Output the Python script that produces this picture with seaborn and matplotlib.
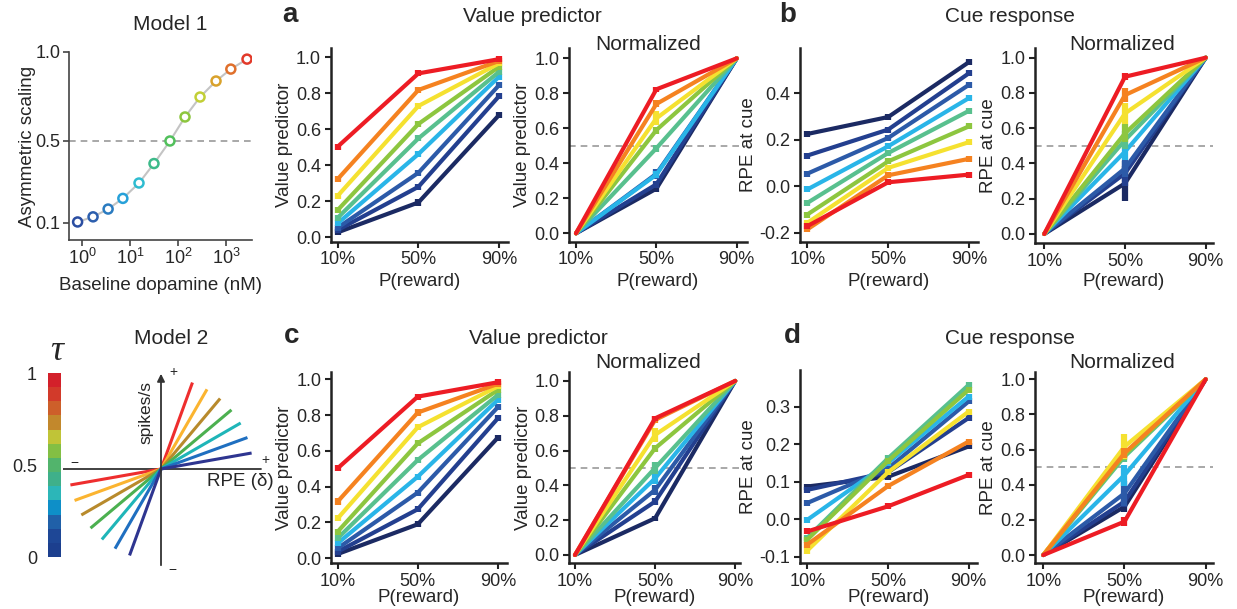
import numpy as np
import pandas as pd
import seaborn as sns
import matplotlib.pyplot as plt
from matplotlib.colors import ListedColormap
from matplotlib.ticker import NullLocator

sns.set_style('ticks')
plt.rcParams['font.family'] = ['Liberation Sans', 'DejaVu Sans']
plt.rcParams['mathtext.fontset'] = 'custom'
plt.rcParams['mathtext.rm'] = 'Liberation Sans'
plt.rcParams['mathtext.it'] = 'Liberation Sans:italic'

# ---------------- data ----------------
# Model 1: asymmetric scaling vs baseline dopamine
dopamine_nM = [0.81, 1.7, 3.5, 7.1, 15.4, 31.6, 68, 140, 288, 620, 1260, 2740]
asym_scaling = [0.105, 0.13, 0.168, 0.22, 0.295, 0.39, 0.5, 0.635, 0.747, 0.837, 0.904, 0.96]
model1_colors = ['#2b4ea2', '#2d5fae', '#2a7bc0', '#27a1d9', '#2fbcd0', '#3dba8a',
                 '#52c05c', '#8dc63f', '#c2cf36', '#d9a22c', '#e0702c', '#e23a2a']

# Model 2: tau colour bar (bottom -> top) and asymmetric response lines
tau_bar_colors = ['#1c3f8e', '#1e4796', '#2060a8', '#0e8fc8', '#2cb6b8', '#3fb08a',
                  '#52b46c', '#83bf44', '#c0c437', '#c2882c', '#cd5f2a', '#d23a2a', '#d3202a']
model2_colors = ['#ee2e2e', '#fbb430', '#b88a2c', '#4cb050', '#1fb5b8', '#1f6fc0', '#2e3590']
pos_angle_deg = [70, 60, 50, 40, 30, 20, 10]
neg_angle_deg = [10, 20, 30, 40, 50, 60, 70]

# Panels a-d: 9 channels, navy (low tau) -> red (high tau)
p_reward = ['10%', '50%', '90%']
line_colors = ['#1b2a63', '#233f8f', '#2c5aa8', '#29b5e8', '#58c08e',
               '#8dc63f', '#f5e130', '#f58220', '#ed1c24']

a_value = [[0.028, 0.194, 0.680], [0.041, 0.281, 0.785], [0.054, 0.359, 0.846],
           [0.078, 0.463, 0.893], [0.109, 0.550, 0.920], [0.152, 0.630, 0.948],
           [0.231, 0.730, 0.967], [0.324, 0.819, 0.980], [0.504, 0.911, 0.990]]
a_norm50 = [0.255, 0.28, 0.34, 0.335, 0.486, 0.59, 0.657, 0.739, 0.823]
a_norm50_err = [0.02, 0.02, 0.03, 0.02, 0.02, 0.02, 0.04, 0.02, 0.015]

b_value = [[0.225, 0.298, 0.535], [0.132, 0.244, 0.487], [0.054, 0.208, 0.437],
           [-0.014, 0.172, 0.380], [-0.072, 0.143, 0.325], [-0.122, 0.107, 0.258],
           [-0.158, 0.079, 0.190], [-0.186, 0.047, 0.118], [-0.172, 0.017, 0.050]]
b_norm50 = [0.287, 0.344, 0.372, 0.467, 0.533, 0.571, 0.684, 0.788, 0.892]
b_norm50_err = [0.1, 0.07, 0.05, 0.05, 0.05, 0.05, 0.06, 0.04, 0.02]

c_value = [[0.024, 0.190, 0.674], [0.037, 0.274, 0.782], [0.056, 0.367, 0.844],
           [0.084, 0.456, 0.885], [0.112, 0.549, 0.912], [0.149, 0.642, 0.940],
           [0.223, 0.732, 0.960], [0.317, 0.814, 0.974], [0.503, 0.903, 0.983]]
c_norm50 = [0.211, 0.307, 0.374, 0.44, 0.50, 0.613, 0.69, 0.776, 0.785]
c_norm50_err = [0.015, 0.02, 0.03, 0.03, 0.035, 0.02, 0.04, 0.02, 0.015]

d_value = [[0.087, 0.113, 0.194], [0.078, 0.125, 0.270], [0.043, 0.135, 0.314],
           [-0.002, 0.150, 0.327], [-0.050, 0.162, 0.358], [-0.055, 0.155, 0.345],
           [-0.084, 0.125, 0.287], [-0.068, 0.088, 0.207], [-0.033, 0.034, 0.118]]
d_norm50 = [0.275, 0.304, 0.351, 0.455, 0.56, 0.57, 0.617, 0.58, 0.19]
d_norm50_err = [0.03, 0.03, 0.07, 0.06, 0.03, 0.03, 0.07, 0.03, 0.025]

# ---------------- figure ----------------
W, H = 1237, 609
fig = plt.figure(figsize=(W / 100, H / 100), dpi=100)


def px_axes(l, t, r, b):
    return fig.add_axes([l / W, 1 - b / H, (r - l) / W, (b - t) / H])


def ftxt(x, y, s, **kw):
    kw.setdefault('ha', 'center')
    kw.setdefault('va', 'center')
    fig.text(x / W, 1 - y / H, s, **kw)


def style(ax, xlim, ylim, yticks, ylabel, xlabelpad):
    ax.set_xlim(xlim)
    ax.set_ylim(ylim)
    ax.set_xticks([0, 1, 2], p_reward)
    ax.set_yticks(yticks, [f'{t:.1f}' for t in yticks])
    ax.set_xlabel('P(reward)', fontsize=13.5, labelpad=xlabelpad)
    ax.set_ylabel(ylabel, fontsize=13.5, labelpad=2)
    sns.despine(ax=ax)
    ax.tick_params(length=4, width=1.5, labelsize=13, pad=3, color='#222222')
    for s in ['left', 'bottom']:
        ax.spines[s].set_linewidth(1.8)
        ax.spines[s].set_color('#222222')


def draw_lines(ax, values, errs):
    for vals, err, col in zip(values, errs, line_colors):
        sns.lineplot(x=[0, 1, 2], y=vals, color=col, linewidth=3, ax=ax, sort=False)
        ax.errorbar([0, 1, 2], vals, yerr=err, fmt='none', ecolor=col,
                    elinewidth=4.5, capsize=0)


def raw_panel(ax, values, err):
    draw_lines(ax, values, [[err, err, err]] * len(values))


def norm_panel(ax, mids, mid_errs):
    ax.axhline(0.5, color='#9a9a9a', lw=1.2, ls=(0, (4, 3)), zorder=0)
    vals = [[0, m, 1] for m in mids]
    errs = [[0, e, 0] for e in mid_errs]
    draw_lines(ax, vals, errs)


# ---- Model 1 ----
K = 205 / 178


def fwd(y):
    y = np.asarray(y, dtype=float)
    return np.where(y < 0.5, 0.5 - (0.5 - y) * K, y)


def inv(y):
    y = np.asarray(y, dtype=float)
    return np.where(y < 0.5, 0.5 - (0.5 - y) / K, y)


ax1 = px_axes(69, 52, 252, 240)
ax1.set_xscale('log')
ax1.set_yscale('function', functions=(fwd, inv))
ax1.axhline(0.5, color='#9a9a9a', lw=1.2, ls=(0, (4, 3)), zorder=0)
sns.lineplot(x=dopamine_nM, y=asym_scaling, color='#c4c4c4', linewidth=1.5, ax=ax1, sort=False)
ax1.scatter(dopamine_nM, asym_scaling, s=42, facecolors='white',
            edgecolors=model1_colors, linewidths=1.8, zorder=3)
ax1.set_xlim(0.536, 3480)
ax1.set_ylim(0.017, 1.0)
ax1.set_xticks([1, 10, 100, 1000])
ax1.xaxis.set_minor_locator(NullLocator())
ax1.set_yticks([0.1, 0.5, 1.0], ['0.1', '0.5', '1.0'])
ax1.yaxis.set_minor_locator(NullLocator())
ax1.set_xlabel('Baseline dopamine (nM)', fontsize=13.5, labelpad=6)
ax1.set_ylabel('Asymmetric scaling', fontsize=13.5, labelpad=0)
sns.despine(ax=ax1)
ax1.tick_params(length=4, width=1.2, labelsize=13, pad=2, color='#444444')
for s in ['left', 'bottom']:
    ax1.spines[s].set_linewidth(1.2)
    ax1.spines[s].set_color('#444444')
ftxt(170, 24, 'Model 1', fontsize=15)

# ---- Model 2 ----
ftxt(171, 338, 'Model 2', fontsize=15)
ax_cb = px_axes(48, 373, 61, 557)
bar = pd.DataFrame({'tau': np.arange(len(tau_bar_colors))[::-1]})
sns.heatmap(bar, cmap=ListedColormap(tau_bar_colors), cbar=False, ax=ax_cb,
            xticklabels=False, yticklabels=False)
ax_cb.set_yticks([0, len(tau_bar_colors) / 2, len(tau_bar_colors)], ['1', '0.5', '0'])
ax_cb.tick_params(length=0, labelsize=13, pad=8)
ax_cb.set_xlabel('')
ax_cb.set_ylabel('')
ftxt(57, 351, 'τ', fontsize=26, family='Liberation Serif', style='italic')

ox, oy = 161, 469
ax2 = px_axes(63, 368, 263, 572)
ax2.set_xlim(63 - ox, 263 - ox)
ax2.set_ylim(oy - 572, oy - 368)
ax2.axis('off')
L = 92
for pa, na, col in zip(pos_angle_deg, neg_angle_deg, model2_colors):
    pr, nr = np.radians(pa), np.radians(na)
    ax2.plot([-L * np.cos(nr), 0, L * np.cos(pr)], [-L * np.sin(nr), 0, L * np.sin(pr)],
             color=col, lw=2.2, solid_capstyle='butt')
ax2.plot([-98, 100], [0, 0], color='#333333', lw=1.3, zorder=0)
ax2.annotate('', xy=(0, 98), xytext=(0, -99),
             arrowprops=dict(arrowstyle='-|>', color='#333333', lw=1.3, mutation_scale=11))
ftxt(146, 413, 'spikes/s', fontsize=12.5, rotation=90)
ftxt(207, 482, 'RPE (δ)', fontsize=13.5, ha='left')
ftxt(173, 372, '+', fontsize=10)
ftxt(172, 570, '−', fontsize=10)
ftxt(74, 463, '−', fontsize=10)
ftxt(265, 460, '+', fontsize=10)

ticks01 = [0, 0.2, 0.4, 0.6, 0.8, 1.0]

# ---- panel a ----
ax = px_axes(330.7, 48, 508, 241.7)
raw_panel(ax, a_value, 0.017)
style(ax, (-0.087, 2.11), (-0.024, 1.052), ticks01, 'Value predictor', 3)
ax = px_axes(569, 48, 746.7, 241.7)
norm_panel(ax, a_norm50, a_norm50_err)
style(ax, (-0.087, 2.124), (-0.048, 1.059), ticks01, 'Value predictor', 3)
ftxt(648, 44, 'Normalized', fontsize=15)

# ---- panel b ----
ax = px_axes(800, 48.3, 978, 241.7)
raw_panel(ax, b_value, 0.013)
style(ax, (-0.09, 2.11), (-0.239, 0.594), [-0.2, 0.0, 0.2, 0.4], 'RPE at cue', 3)
ax = px_axes(1035, 48, 1213, 243.3)
norm_panel(ax, b_norm50, b_norm50_err)
style(ax, (-0.115, 2.09), (-0.053, 1.055), ticks01, 'RPE at cue', 2)
ftxt(1122, 44, 'Normalized', fontsize=15)

# ---- panel c ----
ax = px_axes(331, 371.7, 506.7, 563.3)
raw_panel(ax, c_value, 0.017)
style(ax, (-0.084, 2.11), (-0.028, 1.042), ticks01, 'Value predictor', -1)
ax = px_axes(569.3, 371.7, 740, 563.3)
norm_panel(ax, c_norm50, c_norm50_err)
style(ax, (-0.071, 2.06), (-0.048, 1.053), ticks01, 'Value predictor', -1)
ftxt(648, 362, 'Normalized', fontsize=15)

# ---- panel d ----
ax = px_axes(800, 370, 976.7, 563.3)
raw_panel(ax, d_value, 0.008)
style(ax, (-0.09, 2.1), (-0.118, 0.398), [-0.1, 0.0, 0.1, 0.2, 0.3], 'RPE at cue', -1)
ax = px_axes(1035, 371.7, 1213, 563.3)
norm_panel(ax, d_norm50, d_norm50_err)
style(ax, (-0.102, 2.09), (-0.047, 1.043), ticks01, 'RPE at cue', -1)
ftxt(1122, 362, 'Normalized', fontsize=15)

# ---- headings ----
ftxt(290, 15, 'a', fontsize=20, fontweight='bold')
ftxt(532, 17, 'Value predictor', fontsize=15)
ftxt(788, 15, 'b', fontsize=20, fontweight='bold')
ftxt(1010, 17, 'Cue response', fontsize=15)
ftxt(292, 336, 'c', fontsize=20, fontweight='bold')
ftxt(538, 339, 'Value predictor', fontsize=15)
ftxt(792, 336, 'd', fontsize=20, fontweight='bold')
ftxt(1010, 339, 'Cue response', fontsize=15)

fig.savefig('out.png', dpi=100)
